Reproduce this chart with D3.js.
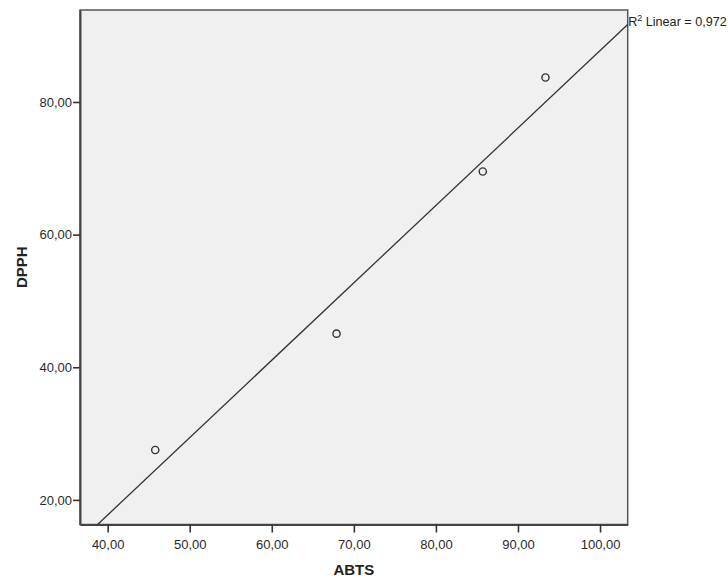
<!DOCTYPE html>
<meta charset="utf-8">
<style>
    body { margin: 0; background: #ffffff; }
    text { font-family: "Liberation Sans", Arial, sans-serif; }
</style>
<script src="https://d3js.org/d3.v7.min.js"></script>
<div id="graph"></div>
<script>
    // data
    var abts = [45.80, 67.89, 85.71, 93.35];
    var dpph = [27.52, 45.07, 69.52, 83.69];
    var xTicks = [40, 50, 60, 70, 80, 90, 100];
    var yTicks = [20, 40, 60, 80];
    var xDomain = [36.63, 103.37];
    var yDomain = [16.29, 93.87];

    var margin = { top: 10, right: 100, bottom: 54, left: 80 },
        width = 728 - margin.left - margin.right,
        height = 579 - margin.top - margin.bottom;

    var comma = d3.formatLocale({ decimal: ",", thousands: ".", grouping: [3], currency: ["", ""] });
    var fmt2 = comma.format(".2f");
    var fmt3 = comma.format(".3f");

    var svg = d3.select("#graph")
        .append("svg")
        .attr("width", 728)
        .attr("height", 579)
        .append("g")
        .attr("transform", "translate(" + margin.left + "," + margin.top + ")");

    var x = d3.scaleLinear().domain(xDomain).range([0, width - 0.3]);
    var y = d3.scaleLinear().domain(yDomain).range([height - 0.5, 0]);

    // plot background
    svg.append("rect")
        .attr("x", 0).attr("y", 0)
        .attr("width", x(xDomain[1])).attr("height", y(yDomain[0]))
        .attr("fill", "#f0f0f0")
        .attr("stroke", "#555")
        .attr("stroke-width", 1.5);

    // axes
    var xAxis = svg.append("g")
        .attr("transform", "translate(0," + y(yDomain[0]) + ")")
        .call(d3.axisBottom(x).tickValues(xTicks).tickFormat(fmt2).tickSize(8).tickSizeOuter(0));
    var yAxis = svg.append("g")
        .call(d3.axisLeft(y).tickValues(yTicks).tickFormat(fmt2).tickSize(7).tickSizeOuter(0));

    [xAxis, yAxis].forEach(function (a) {
        a.select(".domain").attr("stroke", "#444").attr("stroke-width", 2);
        a.selectAll(".tick line").attr("stroke", "#333").attr("stroke-width", 1.6);
        a.selectAll(".tick text")
            .attr("fill", "#2a2a2a")
            .style("font-size", "13px")
            .style("font-family", "'Liberation Sans', Arial, sans-serif");
    });
    xAxis.selectAll(".tick text").attr("dy", "1.05em");
    yAxis.selectAll(".tick text").attr("x", -8);

    // regression line
    var mx = d3.mean(abts), my = d3.mean(dpph);
    var sxy = d3.sum(abts, function (v, i) { return (v - mx) * (dpph[i] - my); });
    var sxx = d3.sum(abts, function (v) { return (v - mx) * (v - mx); });
    var syy = d3.sum(dpph, function (v) { return (v - my) * (v - my); });
    var slope = sxy / sxx;
    var intercept = my - slope * mx;
    var r2 = sxy * sxy / (sxx * syy);

    // clip the line to the plot box
    var xStart = Math.max(xDomain[0], (yDomain[0] - intercept) / slope);
    var xEnd = Math.min(xDomain[1], (yDomain[1] - intercept) / slope);
    svg.append("line")
        .attr("x1", x(xStart))
        .attr("y1", y(intercept + slope * xStart))
        .attr("x2", x(xEnd))
        .attr("y2", y(intercept + slope * xEnd))
        .attr("stroke", "#333")
        .attr("stroke-width", 1.3);

    // points
    svg.selectAll("circle.pt")
        .data(abts)
        .enter()
        .append("circle")
        .attr("class", "pt")
        .attr("cx", function (d) { return x(d); })
        .attr("cy", function (d, i) { return y(dpph[i]); })
        .attr("r", 3.6)
        .attr("fill", "none")
        .attr("stroke", "#333")
        .attr("stroke-width", 1.4);

    // R2 label
    var lbl = svg.append("text")
        .attr("x", x(xDomain[1]) + 0.5)
        .attr("y", 15.5)
        .attr("fill", "#222")
        .style("font-size", "12.6px");
    lbl.append("tspan").text("R");
    lbl.append("tspan").attr("dy", -5).style("font-size", "9px").text("2");
    lbl.append("tspan").attr("dy", 5).text(" Linear = " + fmt3(r2));

    // axis titles
    svg.append("text")
        .attr("x", x(xDomain[1]) / 2)
        .attr("y", height + 50)
        .attr("text-anchor", "middle")
        .attr("font-weight", "bold")
        .attr("fill", "#222")
        .style("font-size", "15px")
        .text("ABTS");

    svg.append("text")
        .attr("transform", "translate(" + (-53) + "," + (y(yDomain[0]) / 2) + ") rotate(-90)")
        .attr("text-anchor", "middle")
        .attr("font-weight", "bold")
        .attr("fill", "#222")
        .style("font-size", "15px")
        .text("DPPH");
</script>
